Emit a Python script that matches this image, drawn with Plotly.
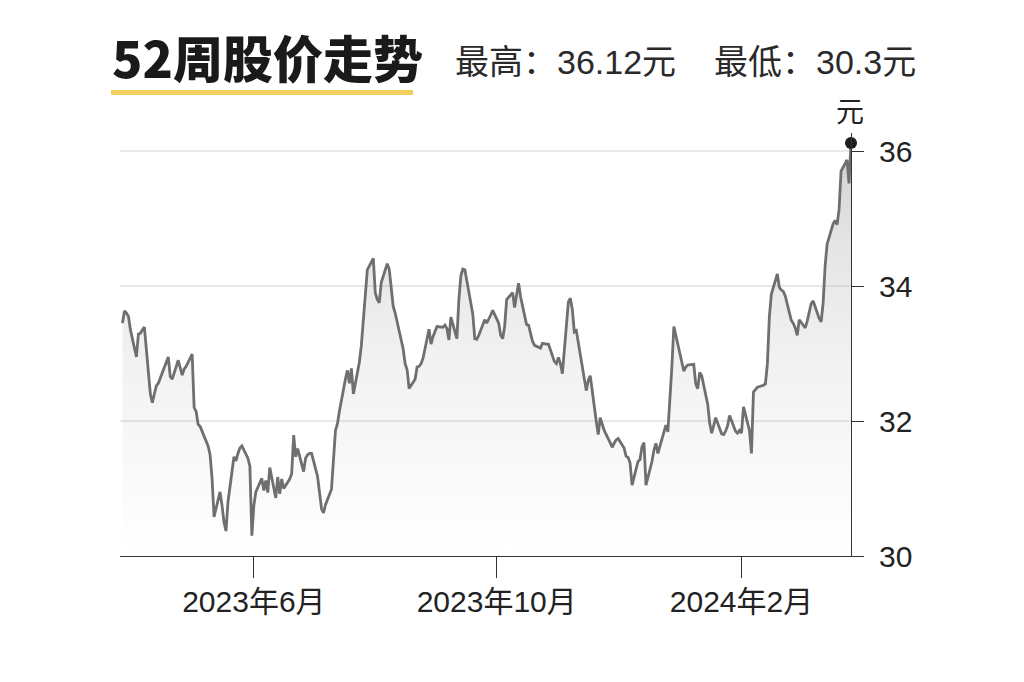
import pandas as pd
import plotly.graph_objects as go

# ---------------- data ----------------
start_date = "2023-03-27"

# daily closes (weekdays), quarter by quarter
prices_2023_q2 = [
    33.45, 33.63, 33.60, 33.55, 33.35,
    32.95, 33.29, 33.30, 33.35, 33.39,
    32.40, 32.27, 32.40, 32.52, 32.56,
    32.80, 32.90, 32.95, 32.66, 32.62,
    32.90, 32.80, 32.68, 32.77, 32.81,
    32.99, 32.20, 32.14, 31.95, 31.92,
    31.70, 31.63, 31.50, 31.15, 30.58,
    30.95, 30.75, 30.50, 30.37, 30.80,
    31.47, 31.41, 31.52, 31.60, 31.63,
    31.45, 31.33, 30.30, 30.75, 30.95,
    31.15, 30.97, 31.12, 30.94, 31.31,
    30.86, 31.17, 30.92, 31.14, 31.00,
    31.14, 31.22, 31.79, 31.47, 31.59,
    31.25, 31.45, 31.50, 31.52, 31.52,
]
prices_2023_q3 = [
    31.18, 30.90, 30.70, 30.64, 30.76,
    30.99, 31.40, 31.86, 31.96, 32.15,
    32.62, 32.75, 32.56, 32.78, 32.40,
    32.87, 33.12, 33.48, 33.87, 34.24,
    34.41, 33.90, 33.80, 33.75, 34.05,
    34.33, 34.25, 34.00, 33.70, 33.60,
    33.22, 33.07, 32.85, 32.76, 32.48,
    32.62, 32.80, 32.81, 32.85, 32.93,
    33.36, 33.14, 33.25, 33.33, 33.40,
    33.39, 33.42, 33.37, 33.20, 33.54,
    33.22, 33.80, 34.15, 34.25, 34.24,
    33.75, 33.58, 33.22, 33.21, 33.27,
    33.50, 33.45, 33.50, 33.57, 33.64,
]
prices_2023_q4 = [
    33.45, 33.27, 33.22, 33.40, 33.80,
    33.90, 33.68, 33.87, 34.04, 33.84,
    33.43, 33.42, 33.30, 33.18, 33.12,
    33.08, 33.15, 33.14, 33.14, 33.14,
    32.88, 32.85, 32.94, 32.85, 32.70,
    33.76, 33.82, 33.65, 33.32, 33.34,
    32.80, 32.57, 32.45, 32.60, 32.67,
    32.00, 31.80, 32.05, 31.94, 31.86,
    31.68, 31.61, 31.67, 31.72, 31.74,
    31.60, 31.48, 31.46, 31.38, 31.05,
    31.40, 31.43, 31.62, 31.68, 31.05,
    31.40, 31.57, 31.67, 31.52, 31.62,
    31.94, 31.84, 32.25, 32.80, 33.40,
]
prices_2024_q1 = [
    33.03, 32.87, 32.74, 32.80, 32.83,
    32.84, 32.55, 32.48, 32.72, 32.67,
    32.25, 31.97, 31.82, 31.93, 32.05,
    31.81, 31.80, 31.85, 31.93, 32.08,
    31.85, 31.82, 31.86, 31.82, 32.21,
    31.86, 31.52, 32.43, 32.46, 32.50,
    32.53, 32.55, 32.85, 33.55, 33.88,
    34.18, 33.98, 33.94, 33.92, 33.85,
    33.49, 33.45, 33.38, 33.27, 33.50,
    33.38, 33.48, 33.63, 33.74, 33.78,
    33.52, 33.47, 33.75, 34.30, 34.62,
    34.92, 34.97, 34.91, 35.13, 35.70,
    35.87, 35.52, 36.12,
]

x_tick_dates = ["2023-06-01", "2023-10-01", "2024-02-01"]
x_tick_labels = ["2023年6月", "2023年10月", "2024年2月"]
y_tick_values = [30, 32, 34, 36]

title_text = "52周股价走势"
unit_text = "元"

# ---------------- build ----------------
prices = prices_2023_q2 + prices_2023_q3 + prices_2023_q4 + prices_2024_q1
dates = pd.bdate_range(start_date, periods=len(prices))

high = max(prices)
low = min(prices)
high_text = f"最高：{high:g}元"
low_text = f"最低：{low:g}元"

W, H = 1024, 682
OFF = 8  # page body margin of the browser
# plot area in screen pixels: x 120..851, y 133..556
L = 120 - OFF
T = 133 - OFF
R = W - (851 - OFF)
B = H - (556 - OFF)
plot_w = W - L - R
plot_h = H - T - B


def px_x(sx):
    return (sx - OFF - L) / plot_w


def px_y(sy):
    return (H - B - (sy - OFF)) / plot_h


y_min = 30
y_max = 30 + plot_h / 67.5

fig = go.Figure()

fig.add_trace(go.Scatter(
    x=dates, y=prices, mode="lines",
    line=dict(color="#6f6f6f", width=2.8),
    fill="tozeroy",
    fillgradient=dict(
        type="vertical",
        start=30, stop=36.2,
        colorscale=[[0, "rgba(140,140,140,0.0)"],
                    [0.45, "rgba(140,140,140,0.11)"],
                    [0.75, "rgba(140,140,140,0.23)"],
                    [1, "rgba(140,140,140,0.42)"]],
    ),
    hoverinfo="skip",
))

fig.add_trace(go.Scatter(
    x=[dates[-1]], y=[prices[-1]], mode="markers",
    marker=dict(color="#1e1e1e", size=12),
    cliponaxis=False,
    hoverinfo="skip",
))

tick_font = dict(family="Liberation Sans, Noto Sans CJK SC, sans-serif",
                 size=30, color="#222222")

fig.update_layout(
    width=W, height=H, autosize=False,
    margin=dict(l=L, r=R, t=T, b=B, pad=0),
    paper_bgcolor="white", plot_bgcolor="white",
    showlegend=False,
    xaxis=dict(
        type="date",
        range=["2023-03-25 18:00", dates[-1]],
        tickvals=x_tick_dates, ticktext=x_tick_labels,
        ticks="outside", ticklen=21, tickwidth=1.2, tickcolor="#333333",
        showline=True, linecolor="#333333", linewidth=1.2,
        showgrid=False, zeroline=False,
        tickfont=tick_font,
        ticklabelstandoff=-2,
    ),
    yaxis=dict(
        side="right",
        range=[y_min, y_max],
        tickvals=y_tick_values,
        ticks="outside", ticklen=12, tickwidth=1.2, tickcolor="#333333",
        showline=True, linecolor="#333333", linewidth=1.2,
        showgrid=True, gridcolor="#e8e8e8", gridwidth=1.5,
        zeroline=False,
        tickfont=tick_font,
        ticklabelstandoff=9,
    ),
)

fig.add_annotation(
    x=px_x(110), y=px_y(56), xref="paper", yref="paper",
    xanchor="left", yanchor="middle", showarrow=False,
    text=title_text,
    font=dict(family="Noto Sans CJK SC, sans-serif", size=50,
              color="#1a1a1a", weight=900),
)
fig.add_annotation(
    x=px_x(453), y=px_y(62), xref="paper", yref="paper",
    xanchor="left", yanchor="middle", showarrow=False,
    text=high_text,
    font=dict(family="Liberation Sans, Noto Sans CJK SC, sans-serif",
              size=34, color="#2a2a2a"),
)
fig.add_annotation(
    x=px_x(712), y=px_y(62), xref="paper", yref="paper",
    xanchor="left", yanchor="middle", showarrow=False,
    text=low_text,
    font=dict(family="Liberation Sans, Noto Sans CJK SC, sans-serif",
              size=34, color="#2a2a2a"),
)
fig.add_annotation(
    x=px_x(850), y=px_y(110), xref="paper", yref="paper",
    xanchor="center", yanchor="middle", showarrow=False,
    text=unit_text,
    font=dict(family="Noto Sans CJK SC, sans-serif", size=28, color="#222222"),
)

fig.add_shape(
    type="rect", xref="paper", yref="paper",
    x0=px_x(111), x1=px_x(413), y0=px_y(95), y1=px_y(90),
    fillcolor="#F2CE5E", line=dict(width=0), layer="above",
)

fig.write_html("out.html")
